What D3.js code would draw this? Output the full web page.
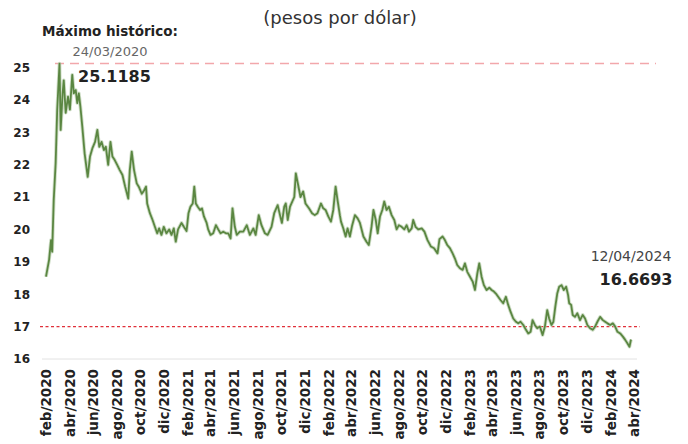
<!DOCTYPE html>
<html>
<head>
<meta charset="utf-8">
<script src="https://cdn.jsdelivr.net/npm/d3@7"></script>
<style>
  html, body { margin: 0; padding: 0; background: #ffffff; }
  svg { display: block; }
  text { font-family: "DejaVu Sans", sans-serif; }
</style>
</head>
<body>
<svg id="chart" width="688" height="444"></svg>
<script>
// ---- Data ----
const dates = [
"2020-02-18","2020-02-26","2020-03-02","2020-03-05","2020-03-09","2020-03-14","2020-03-18","2020-03-24","2020-03-27","2020-04-01",
"2020-04-04","2020-04-09","2020-04-15","2020-04-20","2020-04-26","2020-04-30","2020-05-05","2020-05-09","2020-05-13","2020-05-17",
"2020-05-22","2020-05-28","2020-06-05","2020-06-11","2020-06-17","2020-06-24","2020-06-30","2020-07-05","2020-07-11","2020-07-17",
"2020-07-22","2020-07-28","2020-08-03","2020-08-08","2020-08-14","2020-08-20","2020-08-27","2020-09-03","2020-09-10","2020-09-18",
"2020-09-22","2020-09-27","2020-10-03","2020-10-10","2020-10-16","2020-10-23","2020-10-29","2020-11-03","2020-11-06","2020-11-13",
"2020-11-20","2020-11-26","2020-12-02","2020-12-07","2020-12-13","2020-12-19","2020-12-26","2021-01-02","2021-01-08","2021-01-14",
"2021-01-19","2021-01-25","2021-02-03","2021-02-09","2021-02-16","2021-02-21","2021-02-26","2021-03-04","2021-03-08","2021-03-12",
"2021-03-17","2021-03-23","2021-03-28","2021-04-02","2021-04-09","2021-04-13","2021-04-19","2021-04-26","2021-05-03","2021-05-09",
"2021-05-15","2021-05-22","2021-05-29","2021-06-04","2021-06-10","2021-06-15","2021-06-21","2021-06-26","2021-07-04","2021-07-13",
"2021-07-22","2021-07-30","2021-08-08","2021-08-14","2021-08-22","2021-08-29","2021-09-07","2021-09-14","2021-09-24","2021-10-01",
"2021-10-10","2021-10-16","2021-10-21","2021-10-27","2021-10-31","2021-11-05","2021-11-11","2021-11-22","2021-11-26","2021-12-02",
"2021-12-08","2021-12-15","2021-12-21","2021-12-30","2022-01-07","2022-01-14","2022-01-21","2022-01-30","2022-02-05","2022-02-11",
"2022-02-18","2022-02-25","2022-03-03","2022-03-09","2022-03-14","2022-03-20","2022-03-23","2022-03-29","2022-04-04","2022-04-09",
"2022-04-15","2022-04-21","2022-04-28","2022-05-05","2022-05-11","2022-05-20","2022-05-28","2022-06-03","2022-06-10","2022-06-15",
"2022-06-21","2022-06-26","2022-07-02","2022-07-08","2022-07-13","2022-07-19","2022-07-25","2022-08-01","2022-08-08","2022-08-14",
"2022-08-20","2022-08-27","2022-09-03","2022-09-09","2022-09-15","2022-09-22","2022-09-26","2022-10-02","2022-10-09","2022-10-18",
"2022-10-25","2022-11-02","2022-11-11","2022-11-19","2022-11-28","2022-12-03","2022-12-11","2022-12-17","2022-12-23","2022-12-30",
"2023-01-06","2023-01-12","2023-01-18","2023-01-25","2023-02-01","2023-02-07","2023-02-13","2023-02-20","2023-02-27","2023-03-05",
"2023-03-11","2023-03-16","2023-03-22","2023-03-28","2023-04-04","2023-04-11","2023-04-17","2023-04-23","2023-04-28","2023-05-04",
"2023-05-10","2023-05-17","2023-05-24","2023-05-30","2023-06-05","2023-06-12","2023-06-19","2023-06-25","2023-07-01","2023-07-08",
"2023-07-15","2023-07-21","2023-07-27","2023-08-01","2023-08-07","2023-08-13","2023-08-20","2023-08-27","2023-09-02","2023-09-08",
"2023-09-13","2023-09-19","2023-09-24","2023-09-29","2023-10-04","2023-10-09","2023-10-15","2023-10-21","2023-10-27","2023-11-01",
"2023-11-04","2023-11-09","2023-11-13","2023-11-19","2023-11-25","2023-12-02","2023-12-09","2023-12-15","2023-12-21","2023-12-28",
"2024-01-04","2024-01-10","2024-01-16","2024-01-23","2024-01-30","2024-02-05","2024-02-11","2024-02-18","2024-02-25","2024-03-02",
"2024-03-08","2024-03-15","2024-03-22","2024-03-28","2024-04-03","2024-04-08","2024-04-12"
];
const values = [
18.54,19.06,19.67,19.31,20.90,22.05,23.68,25.1185,23.07,24.20,
24.60,23.60,24.10,23.70,24.77,24.20,24.30,23.90,24.20,23.80,
23.17,22.35,21.62,22.25,22.50,22.70,23.07,22.55,22.70,22.45,
22.55,21.99,22.70,22.25,22.14,22.00,21.83,21.68,21.32,20.95,
21.83,22.40,21.83,21.42,21.30,21.10,21.20,21.32,20.80,20.50,
20.29,20.08,19.88,20.03,19.83,20.08,19.88,20.00,19.83,20.03,
19.62,20.00,20.20,20.08,19.95,20.50,20.70,20.80,21.32,20.80,
20.70,20.60,20.65,20.40,20.20,20.00,19.83,19.88,20.13,20.00,
19.88,19.93,19.88,19.88,19.72,20.65,20.08,19.83,19.93,19.93,
20.13,19.83,20.03,19.83,20.44,20.13,19.88,19.83,20.08,20.50,
20.75,20.44,20.20,20.70,20.80,20.29,20.70,21.00,21.73,21.37,
21.00,21.17,20.80,20.65,20.50,20.44,20.50,20.80,20.65,20.60,
20.40,20.24,20.60,21.32,20.90,20.44,20.24,20.03,19.78,20.03,
19.78,20.13,20.44,20.34,20.20,19.78,19.62,19.52,20.08,20.60,
20.29,19.88,20.40,20.60,20.86,20.60,20.70,20.44,20.29,20.00,
20.13,20.08,20.00,20.13,19.93,20.03,20.29,20.08,20.00,20.03,
19.93,19.67,19.47,19.42,19.26,19.70,19.78,19.67,19.52,19.42,
19.26,19.10,18.90,18.80,18.75,18.95,18.69,18.54,18.39,18.13,
18.64,18.95,18.54,18.28,18.13,18.20,18.13,18.08,18.02,17.92,
17.82,17.72,17.92,17.67,17.46,17.25,17.15,17.10,17.15,17.05,
16.90,16.79,16.84,17.20,17.05,16.95,17.00,16.74,17.00,17.51,
17.25,17.05,17.15,17.62,18.02,18.23,18.28,18.13,18.23,17.98,
17.72,17.67,17.36,17.30,17.41,17.20,17.36,17.25,17.05,16.95,
16.90,17.00,17.15,17.30,17.20,17.15,17.10,17.05,17.10,17.00,
16.84,16.79,16.69,16.59,16.48,16.38,16.60
];
const yTicks = [16,17,18,19,20,21,22,23,24,25];
const tickDates = ["2020-02-18","2020-04-18","2020-06-18","2020-08-18","2020-10-18","2020-12-18",
  "2021-02-18","2021-04-18","2021-06-18","2021-08-18","2021-10-18","2021-12-18",
  "2022-02-18","2022-04-18","2022-06-18","2022-08-18","2022-10-18","2022-12-18",
  "2023-02-18","2023-04-18","2023-06-18","2023-08-18","2023-10-18","2023-12-18",
  "2024-02-18","2024-04-18"];
const tickLabels = ["feb/2020","abr/2020","jun/2020","ago/2020","oct/2020","dic/2020",
  "feb/2021","abr/2021","jun/2021","ago/2021","oct/2021","dic/2021",
  "feb/2022","abr/2022","jun/2022","ago/2022","oct/2022","dic/2022",
  "feb/2023","abr/2023","jun/2023","ago/2023","oct/2023","dic/2023",
  "feb/2024","abr/2024"];
const maxValue = 25.1185, maxDate = "24/03/2020";
const lastValue = "16.6693", lastDate = "12/04/2024";
const refValue = 17;
const title = "(pesos por dólar)";

// ---- Drawing ----
const parse = d3.timeParse("%Y-%m-%d");
const data = dates.map((d, i) => ({ date: parse(d), value: values[i] }));
const svg = d3.select("#chart");

const x = d3.scaleTime()
  .domain([parse("2020-02-18"), parse("2024-04-12")])
  .range([46, 631]);
const y = d3.scaleLinear().domain([16, 25]).range([359, 67.4]);

// title
svg.append("text").attr("x", 340).attr("y", 24).attr("text-anchor", "middle")
  .attr("font-size", 18).attr("fill", "#333").text(title);

// baseline
svg.append("line").attr("x1", 42).attr("x2", 637)
  .attr("y1", y(16)).attr("y2", y(16)).attr("stroke", "#e2e2e2").attr("stroke-width", 1);

// y labels
const yAxis = d3.axisLeft(y).tickValues(yTicks).tickSize(0).tickPadding(0).tickFormat(d3.format("d"));
const gy = svg.append("g").attr("transform", "translate(30,0)").call(yAxis);
gy.select(".domain").remove();
gy.selectAll("text").attr("font-size", 12).attr("font-weight", "bold").attr("fill", "#222")
  .attr("font-family", "DejaVu Sans");

// x labels
const xAxis = d3.axisBottom(x).tickValues(tickDates.map(parse)).tickSize(0)
  .tickFormat((d, i) => tickLabels[i]);
const gx = svg.append("g").attr("transform", "translate(0,369)").call(xAxis);
gx.select(".domain").remove();
gx.selectAll("text")
  .attr("transform", "rotate(-90)")
  .attr("text-anchor", "end")
  .attr("x", 0).attr("y", 0).attr("dy", "0.36em")
  .attr("font-size", 13.5).attr("font-weight", "bold").attr("fill", "#222")
  .attr("font-family", "DejaVu Sans");

// reference lines
svg.append("line").attr("x1", 55).attr("x2", 656)
  .attr("y1", y(maxValue)).attr("y2", y(maxValue))
  .attr("stroke", "#f2a7ab").attr("stroke-width", 1.6).attr("stroke-dasharray", "9,6");
svg.append("line").attr("x1", 40).attr("x2", 640)
  .attr("y1", y(refValue)).attr("y2", y(refValue))
  .attr("stroke", "#e0303a").attr("stroke-width", 1.2).attr("stroke-dasharray", "3,2.5");

// line
const line = d3.line().x(d => x(d.date)).y(d => y(d.value));
svg.append("path").datum(data).attr("d", line)
  .attr("fill", "none").attr("stroke", "#b9cfae").attr("stroke-width", 3.6)
  .attr("stroke-linejoin", "round").attr("opacity", 0.7);
svg.append("path").datum(data).attr("d", line)
  .attr("fill", "none").attr("stroke", "#5a8641").attr("stroke-width", 1.8)
  .attr("stroke-linejoin", "round");

// annotations
svg.append("text").attr("x", 42).attr("y", 36).attr("font-size", 13.5).attr("font-weight", "bold")
  .attr("fill", "#222").text("Máximo histórico:");
svg.append("text").attr("x", 110).attr("y", 56).attr("text-anchor", "middle")
  .attr("font-size", 13).attr("fill", "#666").text(maxDate);
svg.append("text").attr("x", 78).attr("y", 82).attr("font-size", 16).attr("font-weight", "bold")
  .attr("fill", "#222").text(d3.format(".4f")(maxValue));
svg.append("text").attr("x", 631).attr("y", 261).attr("text-anchor", "middle")
  .attr("font-size", 14).attr("fill", "#444").text(lastDate);
svg.append("text").attr("x", 636).attr("y", 285).attr("text-anchor", "middle")
  .attr("font-size", 16).attr("font-weight", "bold").attr("fill", "#222").text(lastValue);
</script>
</body>
</html>
